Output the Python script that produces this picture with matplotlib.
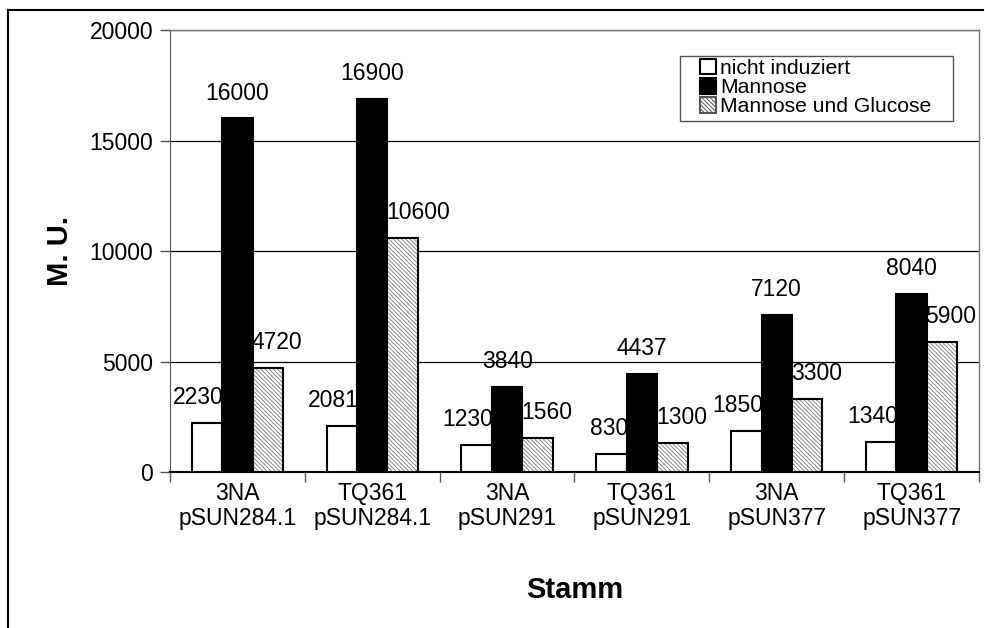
import numpy as np
import matplotlib.pyplot as plt
from matplotlib.patches import Patch, Rectangle
from matplotlib.lines import Line2D

plt.rcParams['font.family'] = ['Liberation Sans', 'DejaVu Sans']
plt.rcParams['hatch.linewidth'] = 0.7

strains = ['3NA\npSUN284.1', 'TQ361\npSUN284.1', '3NA\npSUN291',
           'TQ361\npSUN291', '3NA\npSUN377', 'TQ361\npSUN377']
nicht_induziert = [2230, 2081, 1230, 830, 1850, 1340]
mannose = [16000, 16900, 3840, 4437, 7120, 8040]
mannose_glucose = [4720, 10600, 1560, 1300, 3300, 5900]

W, H = 985, 628
fig = plt.figure(figsize=(W / 100, H / 100), dpi=100)
ax = fig.add_axes([170 / W, 1 - 472 / H, 809 / W, 442 / H])

x = np.arange(len(strains))
w = 0.226
hatch = '\\\\\\\\\\\\\\\\'

ax.bar(x - w, nicht_induziert, w, color='white', edgecolor='black', linewidth=1.5, zorder=3)
ax.bar(x, mannose, w, color='black', edgecolor='black', linewidth=1.5, zorder=3)
ax.bar(x + w, mannose_glucose, w, color='white', edgecolor='#8a8a8a', hatch=hatch,
       linewidth=0, zorder=3)
ax.bar(x + w, mannose_glucose, w, fill=False, edgecolor='black', linewidth=1.5, zorder=4)

fs = 16.5
for i in range(len(strains)):
    ax.annotate(str(nicht_induziert[i]), (x[i] - w / 2, nicht_induziert[i]),
                xytext=(1, 10), textcoords='offset points', ha='right', va='bottom', fontsize=fs)
    ax.annotate(str(mannose[i]), (x[i], mannose[i]),
                xytext=(0, 10), textcoords='offset points', ha='center', va='bottom', fontsize=fs)
    ax.annotate(str(mannose_glucose[i]), (x[i] + w / 2, mannose_glucose[i]),
                xytext=(-1, 10), textcoords='offset points', ha='left', va='bottom', fontsize=fs)

ax.set_xlim(-0.5, len(strains) - 0.5)
ax.set_ylim(0, 20000)
ax.set_yticks([0, 5000, 10000, 15000, 20000])
ax.yaxis.grid(True, color='black', linewidth=0.9, zorder=0)
ax.set_axisbelow(True)

ax.set_xticks(x)
ax.set_xticklabels(strains, fontsize=fs, linespacing=1.15)
ax.set_xticks(np.arange(len(strains) + 1) - 0.5, minor=True)
ax.tick_params(axis='x', which='major', length=0, pad=7)
ax.tick_params(axis='x', which='minor', length=7, width=1, color='#555555')
ax.tick_params(axis='y', labelsize=fs, length=7, width=1, color='#555555', pad=5)

for side in ['top', 'right']:
    ax.spines[side].set_color('#777777')
    ax.spines[side].set_linewidth(1)
ax.spines['left'].set_color('#555555')
ax.spines['bottom'].set_color('black')
ax.spines['bottom'].set_linewidth(1.5)

ax.set_ylabel('M. U.', fontsize=21, fontweight='bold', labelpad=11)
ax.set_xlabel('Stamm', fontsize=21, fontweight='bold', labelpad=33)

# legend: entries without frame, box drawn separately
handles = [
    Patch(facecolor='white', edgecolor='black', linewidth=1.5, label='nicht induziert'),
    Patch(facecolor='black', edgecolor='black', linewidth=1.5, label='Mannose'),
    Patch(facecolor='white', edgecolor='#555555', hatch=hatch, linewidth=1.5,
          label='Mannose und Glucose'),
]
leg = ax.legend(handles=handles, loc='upper left',
                bbox_to_anchor=((700 - 170) / 809, (472 - 59) / 442),
                fontsize=15.2, handlelength=0.75, handleheight=0.75, handletextpad=0.2,
                labelspacing=0.0, borderpad=0, borderaxespad=0, frameon=False)
leg.set_zorder(6)
ax.add_patch(Rectangle(((680 - 170) / 809, (472 - 121) / 442), 273 / 809, 65 / 442,
                       transform=ax.transAxes, facecolor='white', edgecolor='#555555',
                       linewidth=1, zorder=5))

# outer chart frame (top and left edges)
fig.add_artist(Line2D([8 / W, 8 / W], [0, 1 - 10 / H], color='black', linewidth=1.5,
                      transform=fig.transFigure))
fig.add_artist(Line2D([8 / W, 983 / W], [1 - 10 / H, 1 - 10 / H], color='black',
                      linewidth=1.5, transform=fig.transFigure))

fig.savefig('out.png', dpi=100)
